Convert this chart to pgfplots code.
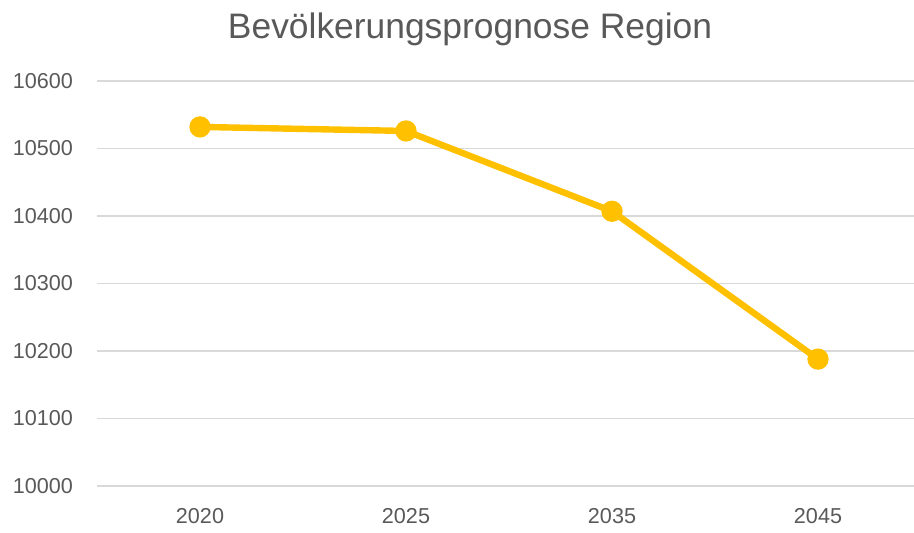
\documentclass[border=0pt]{standalone}
\usepackage{fontspec}
\setmainfont{Liberation Sans}
\usepackage{pgfplots}
\pgfplotsset{compat=1.18}
\definecolor{txt}{HTML}{595959}
\definecolor{gridc}{HTML}{D9D9D9}
\definecolor{lineC}{HTML}{FFC000}
\begin{document}
\begin{tikzpicture}
\useasboundingbox (0,0) rectangle (457pt,266pt);
\begin{axis}[
  at={(48.5pt,23pt)}, anchor=south west,
  scale only axis, width=408.5pt, height=202.5pt,
  xmin=-0.5, xmax=3.466, ymin=10000, ymax=10600,
  xtick={0,1,2,3}, xticklabels={2020,2025,2035,2045},
  ytick={10000,10100,...,10600},
  scaled y ticks=false,
  yticklabel={\pgfmathprintnumber[fixed,precision=0,1000 sep={}]{\tick}},
  axis line style={draw=none},
  major tick length=0pt,
  ymajorgrids, grid style={gridc, line width=0.75pt},
  /pgf/number format/assume math mode=true,
  /pgf/number format/1000 sep={},
  tick label style={font=\fontsize{10.8pt}{12pt}\selectfont, text=txt, inner sep=0pt},
  yticklabel style={anchor=east, xshift=-11.8pt},
  xticklabel style={anchor=base, yshift=-18.5pt},
  title={Bevölkerungsprognose Region},
  title style={font=\fontsize{17.7pt}{20pt}\selectfont, text=txt, at={(0.4566,1)}, anchor=base, yshift=15.5pt, inner sep=0pt},
  clip=false,
]
\addplot[lineC, line width=3.2pt, mark=*, mark size=3.7pt, mark options={fill=lineC, draw=none}]
  coordinates {(0,10532) (1,10526) (2,10407) (3,10188)};
\end{axis}
\end{tikzpicture}
\end{document}
